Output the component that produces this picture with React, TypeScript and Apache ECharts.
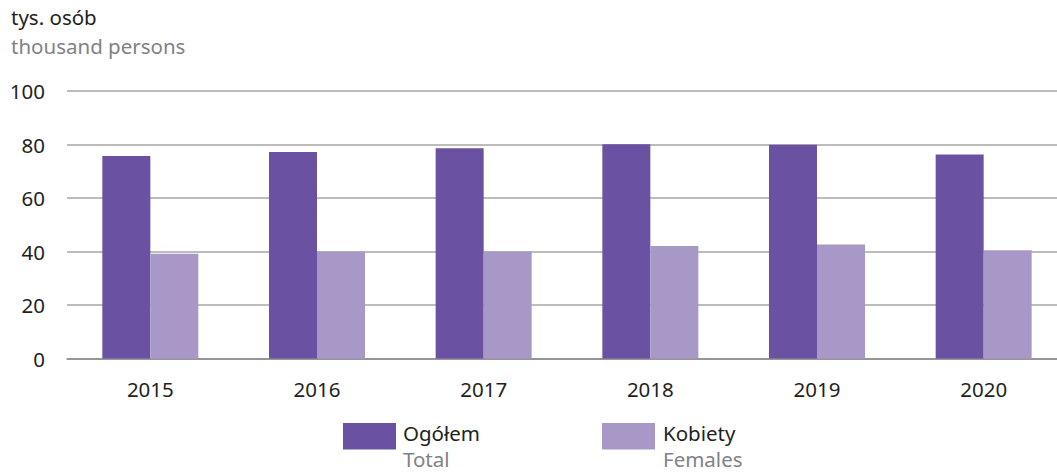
import React, { useEffect, useRef } from "react";
import * as echarts from "echarts";

const years = ["2015", "2016", "2017", "2018", "2019", "2020"];
const total = [75.7, 77.2, 78.6, 80.1, 79.9, 76.3];
const females = [39.2, 40.0, 40.0, 42.1, 42.6, 40.5];
const yTicks = [0, 20, 40, 60, 80, 100];

const C_TOTAL = "#6b51a1";
const C_FEM = "#a898c8";
const FONT = "'Noto Sans', sans-serif";
const DARK = "#231f20";
const GRAY = "#808285";

export default function App() {
  const ref = useRef<HTMLDivElement>(null);
  useEffect(() => {
    document.body.style.margin = "0";
    const chart = echarts.init(ref.current!, null, { renderer: "svg" });
    chart.setOption({
      animation: false,
      textStyle: { fontFamily: FONT },
      grid: { left: 67, width: 1000, top: 91, bottom: 115.5, containLabel: false, outerBoundsMode: "none" },
      xAxis: {
        type: "category",
        data: years,
        axisTick: { show: false },
        axisLine: { lineStyle: { color: "#8a8a8a", width: 1.5 } },
        axisLabel: { color: DARK, fontSize: 20.5, margin: 20, fontFamily: FONT },
      },
      yAxis: {
        type: "value",
        min: yTicks[0],
        max: yTicks[yTicks.length - 1],
        interval: 20,
        axisLabel: { color: DARK, fontSize: 20.5, margin: 22, fontFamily: FONT },
        splitLine: { lineStyle: { color: "#a6a6a6", width: 1.5 } },
        axisLine: { show: false },
        axisTick: { show: false },
      },
      series: [
        {
          name: "Ogółem",
          type: "bar",
          data: total,
          barWidth: 48,
          barGap: "0%",
          itemStyle: { color: C_TOTAL },
        },
        {
          name: "Kobiety",
          type: "bar",
          data: females,
          barWidth: 48,
          barGap: "0%",
          itemStyle: { color: C_FEM },
        },
      ],
      graphic: [
        { type: "text", left: 11, top: 6, style: { text: "tys. osób", fill: DARK, font: `20.5px ${FONT}` } },
        { type: "text", left: 11, top: 35, style: { text: "thousand persons", fill: GRAY, font: `20.5px ${FONT}` } },
        { type: "rect", shape: { x: 343, y: 423, width: 53, height: 26.5 }, style: { fill: C_TOTAL } },
        { type: "text", x: 403, y: 422, style: { text: "Ogółem", fill: DARK, font: `20.5px ${FONT}` } },
        { type: "text", x: 403, y: 448, style: { text: "Total", fill: GRAY, font: `20.5px ${FONT}` } },
        { type: "rect", shape: { x: 602, y: 423, width: 53, height: 26.5 }, style: { fill: C_FEM } },
        { type: "text", x: 663, y: 422, style: { text: "Kobiety", fill: DARK, font: `20.5px ${FONT}` } },
        { type: "text", x: 663, y: 448, style: { text: "Females", fill: GRAY, font: `20.5px ${FONT}` } },
      ],
    });
    return () => chart.dispose();
  }, []);
  return <div ref={ref} style={{ width: 1057, height: 474 }} />;
}
